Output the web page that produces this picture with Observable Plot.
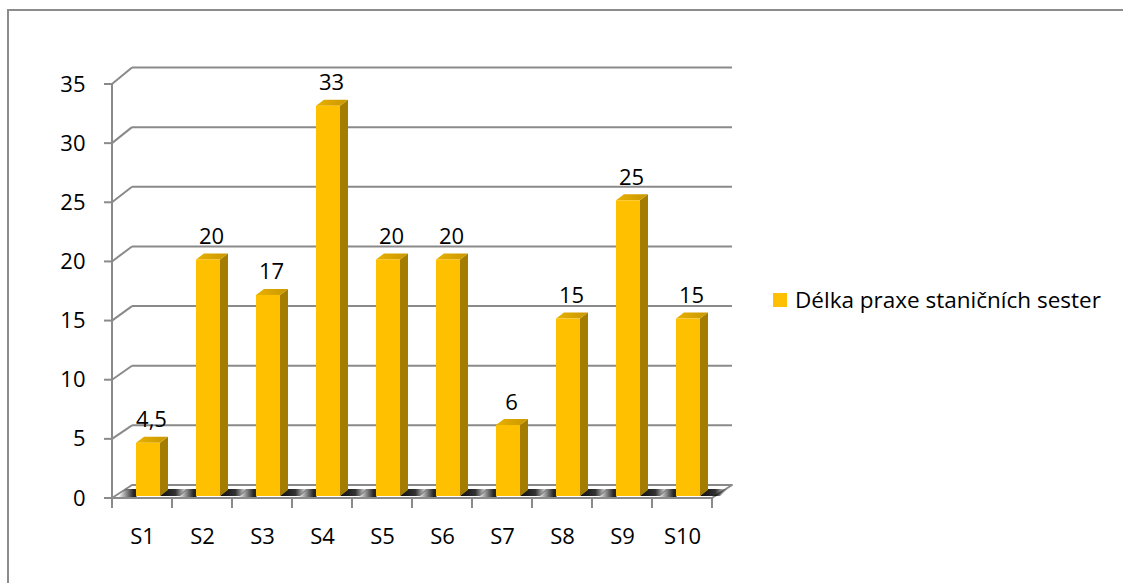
<!DOCTYPE html>
<html>
<head>
<meta charset="utf-8">
<script src="https://cdn.jsdelivr.net/npm/d3@7"></script>
<script src="https://cdn.jsdelivr.net/npm/@observablehq/plot@0.6"></script>
<style>
  html, body { margin: 0; padding: 0; background: #fff; overflow: hidden; }
  #wrap { position: relative; width: 1123px; height: 583px; overflow: hidden; }
  #frame { position: absolute; left: 7px; top: 9px; width: 1300px; height: 800px; border: 2px solid #8c8c8c; box-sizing: border-box; }
  #chart { position: absolute; left: 0; top: 0; }
  #legend { position: absolute; left: 773px; top: 284px; font-family: "Open Sans", Lato, sans-serif; font-size: 22.5px; color: #000; display: flex; align-items: center; white-space: nowrap; }
  #legend .sw { width: 14px; height: 14px; background: #FFC000; margin-right: 8px; }
</style>
</head>
<body>
<div id="wrap">
  <div id="frame"></div>
  <div id="chart"></div>
  <div id="legend"><span class="sw"></span><span id="legendText"></span></div>
</div>
<script>
// ---- data ----
const categories = ["S1", "S2", "S3", "S4", "S5", "S6", "S7", "S8", "S9", "S10"];
const values = [4.5, 20, 17, 33, 20, 20, 6, 15, 25, 15];
const valueLabels = ["4,5", "20", "17", "33", "20", "20", "6", "15", "25", "15"];
const yTicks = [0, 5, 10, 15, 20, 25, 30, 35];
const seriesName = "Délka praxe staničních sester";

const rows = categories.map((c, i) => ({cat: c, value: values[i], label: valueLabels[i]}));

// ---- style ----
const GRID = "#8a8a8a";
const FRONT = "#FFC000";
const SIDE = "#A47D00";
const DEPTH_X = 20;      // back wall offset
const BAR_DX = 8, BAR_DY = -6; // bar depth
const FS = 22;

function render3d(index, scales) {
  const x = scales.x, y = scales.y;
  const bw = x.bandwidth ? x.bandwidth() : (x(categories[1]) - x(categories[0]));
  const x0 = x(categories[0]);
  const x1 = x(categories[categories.length - 1]) + bw;
  const y0 = y(0), yTop = y(yTicks[yTicks.length - 1]);
  const backDY = v => -13 - 3.5 * (y0 - y(v)) / (y0 - yTop);
  const g = d3.create("svg:g");
  const defs = g.append("defs");
  const gA = defs.append("linearGradient").attr("id", "shA");
  gA.append("stop").attr("offset", "0%").attr("stop-color", "#000").attr("stop-opacity", 0.95);
  gA.append("stop").attr("offset", "55%").attr("stop-color", "#000").attr("stop-opacity", 0.8);
  gA.append("stop").attr("offset", "100%").attr("stop-color", "#000").attr("stop-opacity", 0);
  const gB = defs.append("linearGradient").attr("id", "shB");
  gB.append("stop").attr("offset", "0%").attr("stop-color", "#000").attr("stop-opacity", 0);
  gB.append("stop").attr("offset", "60%").attr("stop-color", "#000").attr("stop-opacity", 0.85);
  gB.append("stop").attr("offset", "100%").attr("stop-color", "#000").attr("stop-opacity", 0.9);
  const gT = defs.append("linearGradient").attr("id", "topG");
  gT.append("stop").attr("offset", "0%").attr("stop-color", "#E8B000");
  gT.append("stop").attr("offset", "100%").attr("stop-color", "#C99700");

  const pts = a => a.map(p => p.join(",")).join(" ");

  for (const v of yTicks) {
    const yf = y(v), yb = yf + backDY(v);
    if (v > 0) {
      g.append("line").attr("x1", x0 + DEPTH_X).attr("x2", x1 + DEPTH_X).attr("y1", yb).attr("y2", yb)
        .attr("stroke", GRID).attr("stroke-width", 2);
      g.append("line").attr("x1", x0).attr("x2", x0 + DEPTH_X).attr("y1", yf).attr("y2", yb)
        .attr("stroke", GRID).attr("stroke-width", 2);
    }
    g.append("line").attr("x1", x0 - 8).attr("x2", x0).attr("y1", yf).attr("y2", yf)
      .attr("stroke", GRID).attr("stroke-width", 2);
  }
  const yb0 = y0 + backDY(0);
  g.append("polygon").attr("points", pts([[x0, y0], [x1, y0], [x1 + DEPTH_X, yb0], [x0 + DEPTH_X, yb0]]))
    .attr("fill", "#fff").attr("stroke", GRID).attr("stroke-width", 2).attr("stroke-linejoin", "round");
  const ybar = y0 - 2;
  for (const i of index) {
    const L = x(categories[i]) + bw * 0.40, R = x(categories[i]) + bw * 0.80;
    g.append("polygon").attr("points", pts([[R, ybar], [R + BAR_DX, ybar + BAR_DY - 1], [R + BAR_DX + 20, ybar + BAR_DY - 1], [R + 20, ybar]]))
      .attr("fill", "url(#shA)");
    g.append("polygon").attr("points", pts([[L - 18, ybar + 1], [L - 10, ybar + BAR_DY - 1], [L + BAR_DX, ybar + BAR_DY - 1], [L, ybar + 1]]))
      .attr("fill", "url(#shB)");
  }
  g.append("line").attr("x1", x0).attr("x2", x0).attr("y1", yTop).attr("y2", y0 + 10)
    .attr("stroke", GRID).attr("stroke-width", 2);
  for (let i = 1; i <= categories.length; i++) {
    const xt = x0 + i * bw;
    g.append("line").attr("x1", xt).attr("x2", xt).attr("y1", y0).attr("y2", y0 + 10)
      .attr("stroke", GRID).attr("stroke-width", 2);
  }
  for (const i of index) {
    const L = x(categories[i]) + bw * 0.40, R = x(categories[i]) + bw * 0.80;
    const yt = y(values[i]) - 2;
    g.append("polygon").attr("points", pts([[R, yt], [R + BAR_DX, yt + BAR_DY], [R + BAR_DX, ybar + BAR_DY], [R, ybar]]))
      .attr("fill", SIDE);
    g.append("polygon").attr("points", pts([[L, yt], [R, yt], [R + BAR_DX, yt + BAR_DY], [L + BAR_DX, yt + BAR_DY]]))
      .attr("fill", "url(#topG)");
    g.append("rect").attr("x", L).attr("y", yt).attr("width", R - L).attr("height", ybar - yt).attr("fill", FRONT);
  }
  return g.node();
}

const chart = Plot.plot({
  width: 1123,
  height: 583,
  marginLeft: 111,
  marginRight: 410,
  marginTop: 84,
  marginBottom: 85,
  x: {type: "band", domain: categories, padding: 0, axis: null},
  y: {domain: [0, 35], axis: null},
  style: {fontFamily: "'Open Sans', Lato, sans-serif", background: "transparent", color: "#000"},
  marks: [
    Plot.barY(rows, {x: "cat", y: "value", fillOpacity: 0, render: (index, scales) => render3d(index, scales)}),
    Plot.text(yTicks, {y: d => d, text: d => String(d), frameAnchor: "left", dx: -26, textAnchor: "end", fontSize: FS, fill: "#000"}),
    Plot.text(categories, {x: d => d, text: d => d, frameAnchor: "bottom", dy: 45, fontSize: FS, fill: "#000"}),
    Plot.text(rows, {x: "cat", y: "value", text: "label", dx: 9, dy: -18, lineAnchor: "bottom", fontSize: FS, fill: "#000"})
  ]
});
document.getElementById("chart").appendChild(chart);
document.getElementById("legendText").textContent = seriesName;
</script>
</body>
</html>
